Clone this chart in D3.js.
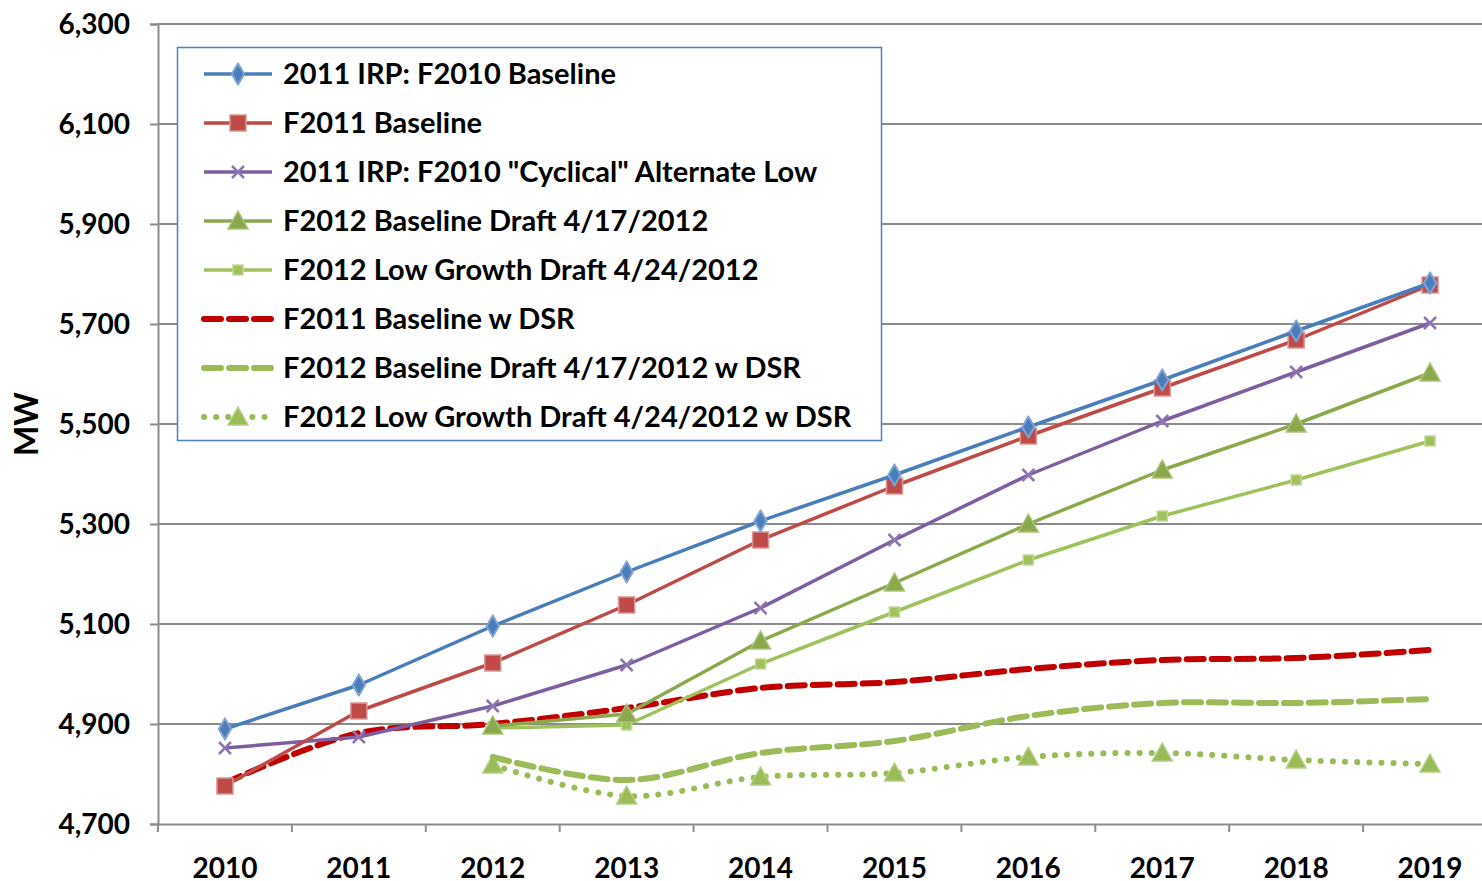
<!DOCTYPE html>
<html>
<head>
<meta charset="utf-8">
<script src="https://cdn.jsdelivr.net/npm/d3@7"></script>
<style>
  body { margin: 0; background: #fff; }
  text { font-family: Lato, "Open Sans", sans-serif; font-weight: 700; fill: #000; }
</style>
</head>
<body>
<div id="chart"></div>
<script>
const years = ["2010", "2011", "2012", "2013", "2014", "2015", "2016", "2017", "2018", "2019"];
const yTicks = [4700, 4900, 5100, 5300, 5500, 5700, 5900, 6100, 6300];

const f2010Base = [4890, 4978, 5096, 5204, 5306, 5398, 5494, 5588, 5686, 5782];
const f2011Base = [4776, 4926, 5022, 5138, 5268, 5376, 5476, 5572, 5668, 5778];
const f2010Cyc = [4852, 4874, 4936, 5018, 5132, 5268, 5398, 5506, 5604, 5702];
const f2012Base = [null, null, 4896, 4920, 5066, 5182, 5300, 5408, 5500, 5602];
const f2012Low = [null, null, 4892, 4898, 5020, 5124, 5228, 5316, 5388, 5466];
const f2011Dsr = [4782, 4882, 4900, 4932, 4972, 4984, 5010, 5028, 5032, 5048];
const f2012BaseDsr = [null, null, 4834, 4788, 4842, 4866, 4916, 4942, 4942, 4950];
const f2012LowDsr = [null, null, 4818, 4756, 4794, 4802, 4834, 4842, 4828, 4820];

const series = [
  {name: '2011 IRP: F2010 Baseline', values: f2010Base, color: '#4A7EBB', marker: 'diamond', dash: null, width: 3.5},
  {name: 'F2011 Baseline', values: f2011Base, color: '#BE4B48', marker: 'square', dash: null, width: 3.5},
  {name: '2011 IRP: F2010 "Cyclical" Alternate Low', values: f2010Cyc, color: '#7D5FA0', marker: 'x', dash: null, width: 3.5},
  {name: 'F2012 Baseline Draft 4/17/2012', values: f2012Base, color: '#8CA84D', marker: 'triangle', dash: null, width: 3.5},
  {name: 'F2012 Low Growth Draft 4/24/2012', values: f2012Low, color: '#9FC25C', marker: 'smallsquare', dash: null, width: 3.5},
  {name: 'F2011 Baseline w DSR', values: f2011Dsr, color: '#C00000', marker: null, dash: '17,8', width: 6, smooth: true},
  {name: 'F2012 Baseline Draft 4/17/2012 w DSR', values: f2012BaseDsr, color: '#9BBB59', marker: null, dash: '17,8', width: 6, smooth: true},
  {name: 'F2012 Low Growth Draft 4/24/2012 w DSR', values: f2012LowDsr, color: '#9BBB59', marker: 'triangleLight', dash: '0.1,12', width: 6, smooth: true}
];

const W = 1482, H = 881;
const plot = {left: 158, right: 1497, top: 24, bottom: 824};

const svg = d3.select('#chart').append('svg')
  .attr('width', W).attr('height', H);

const x = d3.scaleBand().domain(years).range([plot.left, plot.right]);
const y = d3.scaleLinear().domain([4700, 6300]).range([plot.bottom, plot.top]);

// gridlines
svg.append('g')
  .selectAll('line')
  .data(yTicks.slice(1))
  .join('line')
  .attr('x1', plot.left).attr('x2', plot.right)
  .attr('y1', d => y(d)).attr('y2', d => y(d))
  .style('stroke', '#8C8C8C').style('stroke-width', 2);

// y axis
const yAxis = svg.append('g')
  .attr('transform', 'translate(' + plot.left + ',0)')
  .call(d3.axisLeft(y).tickValues(yTicks).tickSize(8).tickPadding(20).tickFormat(d3.format(',')));
yAxis.select('.domain').style('stroke', '#8C8C8C').style('stroke-width', 2);
yAxis.selectAll('.tick line').style('stroke', '#8C8C8C').style('stroke-width', 2);
yAxis.selectAll('text').style('font-size', '28px').attr('dy', '0.35em').style('font-family', 'Lato').style('font-weight', 700);

// x axis
const xAxis = svg.append('g')
  .attr('transform', 'translate(0,' + plot.bottom + ')')
  .call(d3.axisBottom(x).tickSize(0).tickPadding(44));
xAxis.select('.domain').style('stroke', '#8C8C8C').style('stroke-width', 2);
xAxis.selectAll('text').style('font-size', '28px').style('font-family', 'Lato').style('font-weight', 700).attr('dy', '0.35em');
// category separators
svg.append('g')
  .selectAll('line')
  .data(years)
  .join('line')
  .attr('x1', d => x(d)).attr('x2', d => x(d))
  .attr('y1', plot.bottom).attr('y2', plot.bottom + 8)
  .style('stroke', '#8C8C8C').style('stroke-width', 2);

svg.append('text')
  .attr('transform', 'translate(38,' + ((plot.top + plot.bottom) / 2) + ') rotate(-90)')
  .attr('text-anchor', 'middle')
  .style('font-size', '32px')
  .text('MW');

const cx = d => x(d) + x.bandwidth() / 2;

function drawMarker(g, type, color, px, py) {
  if (type === 'diamond') {
    g.append('path').attr('d', d3.symbol(d3.symbolDiamond, 130)())
      .attr('transform', 'translate(' + px + ',' + py + ')')
      .style('fill', color).style('stroke', '#7FA4D4').style('stroke-width', 2)
      .style('stroke-linejoin', 'round');
  } else if (type === 'square') {
    g.append('rect').attr('x', px - 8).attr('y', py - 8).attr('width', 16).attr('height', 16)
      .style('fill', color).style('stroke', '#D99594').style('stroke-width', 1.5);
  } else if (type === 'smallsquare') {
    g.append('rect').attr('x', px - 5).attr('y', py - 5).attr('width', 10).attr('height', 10)
      .style('fill', color).style('stroke', '#C3D69B').style('stroke-width', 1.5);
  } else if (type === 'x') {
    g.append('path').attr('d', 'M-6,-6L6,6M-6,6L6,-6')
      .attr('transform', 'translate(' + px + ',' + py + ')')
      .style('stroke', '#8E74B0').style('stroke-width', 2.5).style('fill', 'none');
  } else if (type === 'triangle' || type === 'triangleLight') {
    g.append('path').attr('d', 'M0,-10L10,8L-10,8Z')
      .attr('transform', 'translate(' + px + ',' + py + ')')
      .style('fill', type === 'triangle' ? '#8CA84D' : '#9BBB59')
      .style('stroke', type === 'triangle' ? '#A9C47A' : '#B5CF86').style('stroke-width', 1.5);
  }
}

const lineStraight = d3.line().defined(d => d.v != null).x(d => d.x).y(d => y(d.v));
const lineSmooth = d3.line().defined(d => d.v != null).x(d => d.x).y(d => y(d.v)).curve(d3.curveCatmullRom.alpha(0.5));

const order = [7, 6, 5, 4, 3, 2, 1, 0];
order.forEach(i => {
  const s = series[i];
  const pts = s.values.map((v, j) => ({x: cx(years[j]), v: v}));
  const g = svg.append('g');
  g.append('path').datum(pts)
    .attr('d', s.smooth ? lineSmooth : lineStraight)
    .style('fill', 'none').style('stroke', s.color)
    .style('stroke-width', s.width)
    .style('stroke-linecap', s.dash ? 'round' : 'butt')
    .style('stroke-linejoin', 'round')
    .style('stroke-dasharray', s.dash);
  if (s.marker) {
    pts.filter(p => p.v != null).forEach(p => drawMarker(g, s.marker, s.color, p.x, y(p.v)));
  }
});

// legend
const legend = svg.append('g');
legend.append('rect').attr('x', 177.5).attr('y', 47.5).attr('width', 704).attr('height', 393)
  .style('fill', '#fff').style('stroke', '#4F81BD').style('stroke-width', 1.5);
series.forEach((s, i) => {
  const ly = 74 + i * 49;
  legend.append('line').attr('x1', 204).attr('x2', 272).attr('y1', ly).attr('y2', ly)
    .style('stroke', s.color).style('stroke-width', s.dash ? 6 : 3.5)
    .style('stroke-linecap', s.dash ? 'round' : 'butt')
    .style('stroke-dasharray', s.dash);
  if (s.marker) drawMarker(legend, s.marker, s.color, 238, ly);
  legend.append('text').attr('x', 283).attr('y', ly).attr('dy', '0.35em')
    .style('font-size', '29px').text(s.name);
});
</script>
</body>
</html>
